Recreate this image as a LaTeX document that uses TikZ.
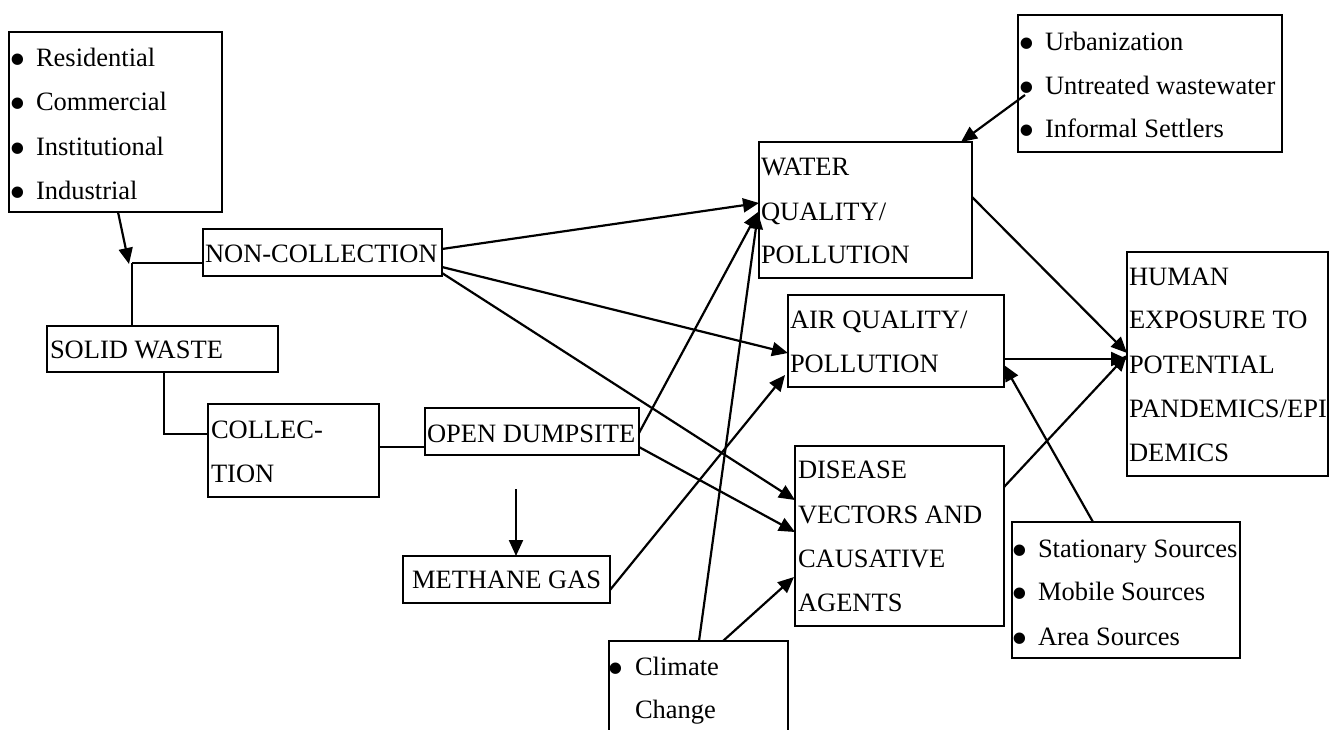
\documentclass[tikz,border=0pt]{standalone}
\usepackage{fontspec}
\setmainfont{Liberation Serif}
\usetikzlibrary{calc,arrows.meta}
\newcommand{\bigbul}{\scalebox{1.8}{•}}
\begin{document}
\begin{tikzpicture}[x=1pt,y=-1pt,
  box/.style={draw, line width=2.2pt, anchor=north west, inner sep=0pt, outer sep=0pt},
  txt/.style={anchor=base west, inner sep=0pt, outer sep=0pt, font=\fontsize{26.5}{30}\selectfont},
  bul/.style={anchor=base, inner sep=0pt, outer sep=0pt, font=\fontsize{26.5}{30}\selectfont},
  ln/.style={line width=2.2pt},
  arr/.style={line width=2.2pt, -{Triangle[length=16pt,width=14pt]}}]
\useasboundingbox (0,0) rectangle (1330,729);
\clip (0,0) rectangle (1330,729);

% ---------- boxes ----------
\node[box, minimum width=213pt, minimum height=180pt] (src) at (9,32) {};
\node[box, minimum width=239pt, minimum height=47pt] (noncoll) at (203,229) {};
\node[box, minimum width=231pt, minimum height=46pt] (solid) at (47,326) {};
\node[box, minimum width=171pt, minimum height=93pt] (coll) at (208,404) {};
\node[box, minimum width=214pt, minimum height=47pt] (dump) at (425,408) {};
\node[box, minimum width=207pt, minimum height=47pt] (meth) at (403,556) {};
\node[box, minimum width=264pt, minimum height=137pt] (urban) at (1018,15) {};
\node[box, minimum width=213pt, minimum height=136pt] (water) at (759,142) {};
\node[box, minimum width=216pt, minimum height=92pt] (air) at (788,295) {};
\node[box, minimum width=201pt, minimum height=224pt] (human) at (1127,252) {};
\node[box, minimum width=209pt, minimum height=180pt] (dis) at (795,446) {};
\node[box, minimum width=228pt, minimum height=136pt] (stat) at (1012,522) {};
\node[box, minimum width=179pt, minimum height=120pt] (clim) at (609,641) {};

% ---------- texts ----------
\node[bul] (b1a) at (17.5,75) {\bigbul};
\node[bul] (b1b) at (17.5,119.5) {\bigbul};
\node[bul] (b1c) at (17.5,164) {\bigbul};
\node[bul] (b1d) at (17.5,208.5) {\bigbul};
\node[txt] (t1a) at (36,66) {Residential};
\node[txt] (t1b) at (36,110.5) {Commercial};
\node[txt] (t1c) at (36,155) {Institutional};
\node[txt] (t1d) at (36,199.5) {Industrial};

\node[txt] (t2) at (205,262) {NON-COLLECTION};
\node[txt] (t3) at (50,358) {SOLID WASTE};
\node[txt] (t4a) at (211,438) {COLLEC-};
\node[txt] (t4b) at (211,482) {TION};
\node[txt] (t5) at (427,442) {OPEN DUMPSITE};
\node[txt] (t6) at (412,588) {METHANE GAS};

\node[bul] (b7a) at (1027,59) {\bigbul};
\node[bul] (b7b) at (1027,103) {\bigbul};
\node[bul] (b7c) at (1027,146) {\bigbul};
\node[txt] (t7a) at (1045,50) {Urbanization};
\node[txt] (t7b) at (1045,94) {Untreated wastewater};
\node[txt] (t7c) at (1045,137) {Informal Settlers};

\node[txt] (t8a) at (761,175) {WATER};
\node[txt] (t8b) at (761,220) {QUALITY/};
\node[txt] (t8c) at (761,263) {POLLUTION};

\node[txt] (t9a) at (790,328) {AIR QUALITY/};
\node[txt] (t9b) at (790,372) {POLLUTION};

\node[txt] (t10a) at (1129,285) {HUMAN};
\node[txt] (t10b) at (1129,328) {EXPOSURE TO};
\node[txt] (t10c) at (1129,373) {POTENTIAL};
\node[txt] (t10d) at (1129,417) {PANDEMICS/EPI};
\node[txt] (t10e) at (1129,461) {DEMICS};

\node[txt] (t11a) at (798,478) {DISEASE};
\node[txt] (t11b) at (798,523) {VECTORS AND};
\node[txt] (t11c) at (798,567) {CAUSATIVE};
\node[txt] (t11d) at (798,611) {AGENTS};

\node[bul] (b12a) at (1020,566) {\bigbul};
\node[bul] (b12b) at (1020,609) {\bigbul};
\node[bul] (b12c) at (1020,654) {\bigbul};
\node[txt] (t12a) at (1038,557) {Stationary Sources};
\node[txt] (t12b) at (1038,600) {Mobile Sources};
\node[txt] (t12c) at (1038,645) {Area Sources};

\node[bul] (b13a) at (616,684) {\bigbul};
\node[txt] (t13a) at (635,675) {Climate};
\node[txt] (t13b) at (635,718) {Change};

% ---------- connectors ----------
\coordinate (J) at (132,263);
\coordinate (mstart) at (516,489);

\draw[arr] ($(src.south west)+(109,0)$) -- ($(J)+(-3,1)$);
\draw[ln] (J) -- ($(noncoll.west)+(0,10.5)$);
\draw[ln] (J) -- ($(solid.north west)+(85,0)$);
\draw[ln] ($(solid.south west)+(117,0)$) |- ($(coll.west)+(0,-16.5)$);
\draw[ln] ($(coll.east)+(0,-3.5)$) -- ($(dump.west)+(0,15.5)$);
\draw[arr] (mstart) -- ($(meth.north west)+(113,0)$);

\draw[arr] ($(noncoll.east)+(0,-3.5)$) -- ($(water.west)+(0,-7)$);
\draw[arr] ($(noncoll.east)+(0,14.5)$) -- ($(air.west)+(0,12)$);
\draw[arr] ($(noncoll.east)+(0,20.5)$) -- ($(dis.west)+(0,-36)$);

\draw[arr] ($(dump.east)+(0,1.5)$) -- ($(water.west)+(-1,2)$);
\draw[arr] ($(dump.east)+(0,15.5)$) -- ($(dis.west)+(0,-4)$);
\draw[arr] ($(meth.east)+(0,10.5)$) -- ($(air.west)+(-3,34)$);

\draw[arr] ($(clim.north west)+(90,0)$) -- ($(water.west)+(-1,3)$);
\draw[arr] ($(clim.north west)+(114,0)$) -- ($(dis.west)+(-1,41)$);

\draw[arr] ($(urban.west)+(7,11.5)$) -- ($(water.north west)+(202,0)$);

\draw[arr] ($(water.east)+(0,-13)$) -- ($(human.west)+(0,-11)$);
\draw[arr] ($(air.east)+(0,18)$) -- ($(human.west)+(0,-5)$);
\draw[arr] ($(dis.east)+(0,-49)$) -- ($(human.west)+(0,-9)$);
\draw[arr] ($(stat.north west)+(81,0)$) -- ($(air.south east)+(0,-22)$);
\end{tikzpicture}
\end{document}
